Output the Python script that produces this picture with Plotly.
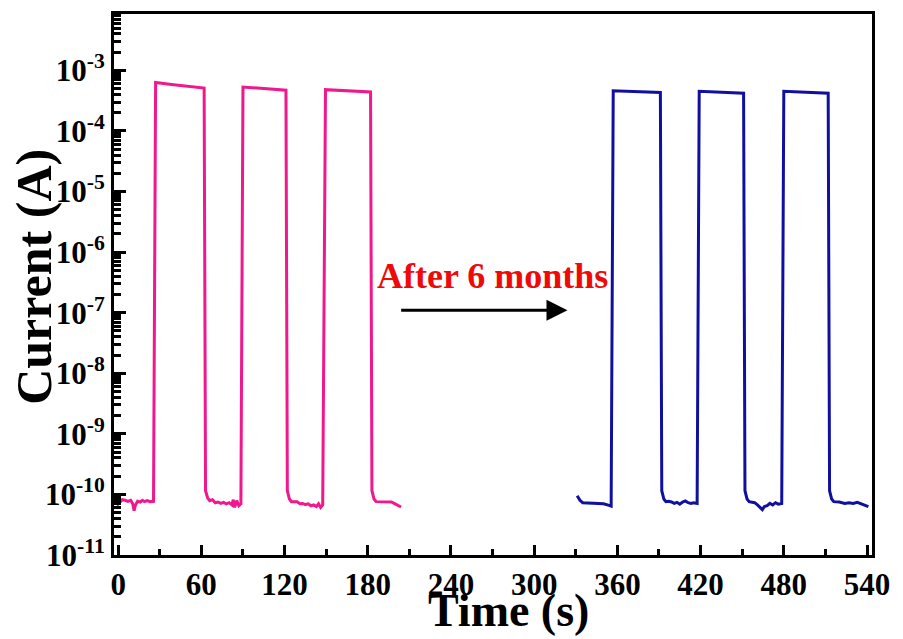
import plotly.graph_objects as go
import math

# ---- data ----
t_pink = [-1, 1, 3, 5, 7, 9, 10.5, 11.5, 12.5, 14, 16, 17.5, 19, 21, 23, 25.5,
          27, 40, 62,
          63, 64.5, 66, 68, 70, 72, 74, 76, 78, 80, 82, 83, 84, 85.5, 87, 88.5,
          90, 105, 121,
          122, 123.5, 125, 127, 129, 131, 133, 135, 137, 139, 141, 143, 144.5, 146, 147.5,
          149.5, 165, 182,
          183, 184.5, 186, 190, 194, 197, 199, 201, 204]
i_pink = [6.6e-11, 7.4e-11, 8.2e-11, 8.0e-11, 7.7e-11, 8.0e-11, 7.0e-11, 5.4e-11, 6.7e-11, 7.7e-11, 7.5e-11, 8.0e-11, 7.6e-11, 7.9e-11, 7.6e-11, 7.7e-11,
          6.3e-4, 5.8e-4, 5.1e-4,
          1.15e-10, 8.8e-11, 7.9e-11, 8.2e-11, 7.3e-11, 7.5e-11, 7.1e-11, 7.4e-11, 7.0e-11, 7.3e-11, 6.7e-11, 8.2e-11, 6.1e-11, 7.9e-11, 6.5e-11, 7.0e-11,
          5.3e-4, 5.0e-4, 4.7e-4,
          1.15e-10, 8.4e-11, 7.6e-11, 7.5e-11, 7.6e-11, 7.0e-11, 7.1e-11, 6.8e-11, 7.0e-11, 6.5e-11, 6.7e-11, 6.3e-11, 7.0e-11, 6.1e-11, 6.7e-11,
          4.8e-4, 4.6e-4, 4.4e-4,
          1.15e-10, 8.4e-11, 7.6e-11, 7.6e-11, 7.5e-11, 7.5e-11, 7.1e-11, 6.7e-11, 6.2e-11]

t_blue = [331, 333, 335, 340, 345, 350, 354, 355.5,
          357, 391,
          392, 393.5, 395, 397, 399, 401, 403, 405, 407, 409, 411, 413, 415, 417.5,
          419, 451,
          452, 453.5, 455, 457, 459, 461, 463, 464.5, 466, 468, 470, 472, 474, 476, 478.5,
          480, 512,
          513, 514.5, 516, 520, 524, 527, 530, 533, 536, 539, 541]
i_blue = [9.5e-11, 8.0e-11, 7.3e-11, 7.2e-11, 7.1e-11, 7.0e-11, 6.6e-11, 6.4e-11,
          4.6e-4, 4.3e-4,
          1.15e-10, 8.4e-11, 7.6e-11, 7.7e-11, 7.5e-11, 7.1e-11, 7.4e-11, 6.9e-11, 7.5e-11, 7.8e-11, 7.3e-11, 7.1e-11, 7.3e-11, 7.1e-11,
          4.5e-4, 4.2e-4,
          1.15e-10, 8.4e-11, 7.6e-11, 7.5e-11, 7.3e-11, 6.7e-11, 6.0e-11, 5.6e-11, 6.3e-11, 6.5e-11, 7.1e-11, 6.7e-11, 7.3e-11, 6.9e-11, 7.1e-11,
          4.5e-4, 4.2e-4,
          1.15e-10, 8.4e-11, 7.6e-11, 7.5e-11, 7.1e-11, 7.3e-11, 7.1e-11, 7.4e-11, 6.9e-11, 6.5e-11, 6.3e-11]

x_ticks = [0, 60, 120, 180, 240, 300, 360, 420, 480, 540]
y_tick_vals = [1e-11, 1e-10, 1e-9, 1e-8, 1e-7, 1e-6, 1e-5, 1e-4, 1e-3]
y_tick_text = ["10<sup>-11</sup>", "10<sup>-10</sup>", "10<sup>-9</sup>", "10<sup>-8</sup>",
               "10<sup>-7</sup>", "10<sup>-6</sup>", "10<sup>-5</sup>", "10<sup>-4</sup>", "10<sup>-3</sup>"]

x_title = "Time (s)"
y_title = "Current (A)"
annot_text = "After 6 months"
arrow_start = (203, 1.1e-7)
arrow_end = (324, 1.1e-7)
annot_pos = (270, 4.0e-7)

FONT = "Liberation Serif, Times New Roman, serif"

fig = go.Figure()
fig.add_trace(go.Scatter(x=t_pink, y=i_pink, mode="lines",
                         line=dict(color="#f0188c", width=3), showlegend=False))
fig.add_trace(go.Scatter(x=t_blue, y=i_blue, mode="lines",
                         line=dict(color="#1010a0", width=3), showlegend=False))

fig.add_annotation(x=arrow_end[0], y=math.log10(arrow_end[1]),
                   ax=arrow_start[0], ay=math.log10(arrow_start[1]),
                   xref="x", yref="y", axref="x", ayref="y",
                   showarrow=True, arrowhead=2, arrowsize=1.4, arrowwidth=3,
                   arrowcolor="black", text="")
fig.add_annotation(x=annot_pos[0], y=math.log10(annot_pos[1]), xref="x", yref="y",
                   text=annot_text, showarrow=False,
                   font=dict(family=FONT, size=36, color="#ee0a0a", weight="bold"))

# axis titles as annotations for precise placement
fig.add_annotation(x=0.52, y=-0.103, xref="paper", yref="paper",
                   text=x_title, showarrow=False, xanchor="center", yanchor="middle",
                   font=dict(family=FONT, size=46, weight="bold", color="black"))
fig.add_annotation(x=-0.105, y=0.515, xref="paper", yref="paper",
                   text=y_title, showarrow=False, textangle=-90,
                   xanchor="center", yanchor="middle",
                   font=dict(family=FONT, size=50, weight="bold", color="black"))

fig.update_layout(
    width=903, height=639,
    margin=dict(l=114, r=31, t=14, b=84),
    plot_bgcolor="white", paper_bgcolor="white",
    font=dict(family=FONT, color="black"),
)
fig.update_xaxes(
    range=[-3, 543.6], tickvals=x_ticks, showgrid=False, zeroline=False,
    showline=True, linecolor="black", linewidth=3, mirror=True,
    ticks="inside", ticklen=10, tickwidth=3, tickcolor="black",
    minor=dict(dtick=30, tick0=0, ticks="inside", ticklen=6, tickwidth=3, tickcolor="black", showgrid=False),
    tickfont=dict(family=FONT, size=31, weight="bold"),
)
fig.update_yaxes(
    type="log", range=[-11.0, -2.07], tickvals=y_tick_vals, ticktext=y_tick_text,
    showgrid=False, zeroline=False,
    showline=True, linecolor="black", linewidth=3, mirror=True,
    ticks="inside", ticklen=12, tickwidth=3, tickcolor="black",
    minor=dict(dtick="D1", ticks="inside", ticklen=7, tickwidth=3, tickcolor="black", showgrid=False),
    tickfont=dict(family=FONT, size=31, weight="bold"),
)

fig.write_html("out.html")
